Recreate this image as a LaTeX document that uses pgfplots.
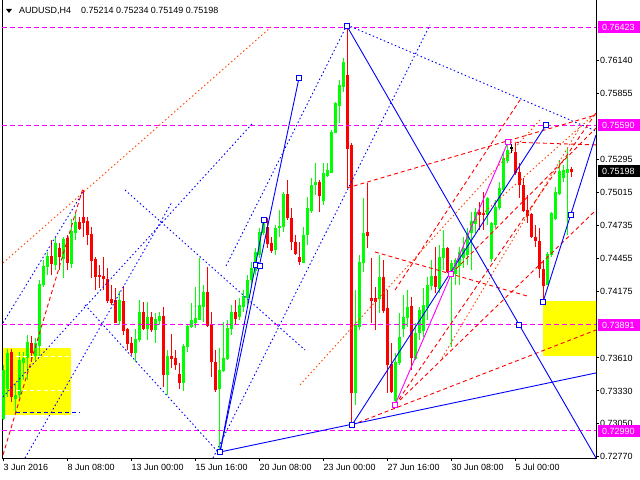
\documentclass[border=0pt]{standalone}
\usepackage{pgfplots}
\pgfplotsset{compat=1.18}
\usepackage{pgfplotstable}
\usepackage{fontspec}
\setmainfont{Liberation Sans}
\definecolor{mtgreen}{RGB}{0,255,0}
\definecolor{mtred}{RGB}{255,0,0}
\definecolor{mtblue}{RGB}{0,0,255}
\definecolor{mtmag}{RGB}{255,0,255}
\definecolor{mtorange}{RGB}{255,69,0}
\definecolor{mtyellow}{RGB}{255,255,0}

\pgfplotstableread{
i o h l c
0 0.73100 0.73551 0.73083 0.73508
1 0.73355 0.73687 0.73279 0.73653
3 0.73270 0.73398 0.73143 0.73296
4 0.73296 0.73661 0.73253 0.73593
5 0.73576 0.73661 0.73423 0.73610
6 0.73610 0.73806 0.73423 0.73738
8 0.73636 0.73780 0.73593 0.73738
9 0.73721 0.74273 0.73619 0.74239
10 0.74239 0.74443 0.74214 0.74392
11 0.74384 0.74511 0.74316 0.74477
13 0.74409 0.74630 0.74358 0.74588
15 0.74460 0.74639 0.74290 0.74622
17 0.74418 0.74792 0.74375 0.74690
18 0.74681 0.74843 0.74613 0.74766
29 0.73925 0.74180 0.73891 0.74095
33 0.73653 0.73857 0.73576 0.73772
34 0.73763 0.74103 0.73746 0.74001
36 0.73865 0.74086 0.73763 0.73959
38 0.73857 0.73993 0.73738 0.73942
39 0.73933 0.74001 0.73891 0.73967
41 0.73474 0.73678 0.73296 0.73627
45 0.73406 0.73729 0.73330 0.73712
46 0.73704 0.73899 0.73661 0.73882
47 0.73874 0.74078 0.73865 0.73933
48 0.73916 0.74214 0.73865 0.73950
49 0.73942 0.74460 0.73933 0.74061
50 0.74044 0.74231 0.73916 0.74171
54 0.73347 0.73695 0.72811 0.73508
55 0.73500 0.73916 0.73491 0.73610
56 0.73610 0.73933 0.73593 0.73865
57 0.73865 0.74061 0.73806 0.74001
59 0.73967 0.74120 0.73933 0.74061
60 0.74052 0.74188 0.74001 0.74137
61 0.74129 0.74316 0.74061 0.74273
62 0.74273 0.74426 0.74205 0.74375
63 0.74358 0.74545 0.74316 0.74511
64 0.74486 0.74715 0.74460 0.74681
65 0.74681 0.74800 0.74656 0.74766
68 0.74537 0.74741 0.74486 0.74715
69 0.74715 0.74868 0.74639 0.74724
70 0.74724 0.75021 0.74681 0.74996
75 0.74426 0.74724 0.74426 0.74656
76 0.74656 0.74979 0.74571 0.74885
77 0.74868 0.75140 0.74843 0.75081
78 0.75081 0.75268 0.74996 0.75106
80 0.74953 0.75268 0.74911 0.75183
81 0.75166 0.75268 0.75149 0.75208
82 0.75191 0.75548 0.75183 0.75531
83 0.75531 0.75786 0.75523 0.75778
84 0.75761 0.75973 0.75608 0.75931
85 0.75914 0.76160 0.75871 0.76126
88 0.73321 0.74188 0.73211 0.73891
89 0.73874 0.74486 0.73848 0.74418
90 0.74418 0.74970 0.74341 0.74673
94 0.74120 0.74486 0.73993 0.74299
98 0.73253 0.73653 0.73211 0.73576
99 0.73576 0.73993 0.73551 0.73789
100 0.73865 0.74146 0.73789 0.73959
101 0.73959 0.74188 0.73874 0.74044
103 0.73610 0.73908 0.73593 0.73823
104 0.73823 0.74044 0.73763 0.74018
105 0.73848 0.74205 0.73789 0.74061
106 0.74044 0.74299 0.73933 0.74231
107 0.74231 0.74443 0.74188 0.74307
109 0.74205 0.74571 0.74163 0.74469
110 0.74469 0.74698 0.74358 0.74545
112 0.74341 0.74443 0.73704 0.74418
113 0.74333 0.74460 0.74231 0.74443
114 0.74401 0.74554 0.74231 0.74511
115 0.74469 0.74639 0.74375 0.74545
116 0.74486 0.74715 0.74401 0.74673
117 0.74673 0.74851 0.74358 0.74766
118 0.74758 0.74885 0.74673 0.74851
121 0.74826 0.74979 0.74741 0.74970
122 0.74460 0.74766 0.74426 0.74758
123 0.74741 0.74953 0.74715 0.74894
124 0.74885 0.75106 0.74868 0.75055
125 0.75038 0.75353 0.75021 0.75302
126 0.75293 0.75446 0.75268 0.75378
136 0.74231 0.74511 0.74231 0.74494
137 0.74486 0.74851 0.74469 0.74843
138 0.74800 0.75064 0.74783 0.75021
139 0.75013 0.75293 0.74996 0.75200
140 0.75140 0.75251 0.75106 0.75200
141 0.75191 0.75395 0.74656 0.75214
}\bull

\pgfplotstableread{
i o h l c
2 0.73661 0.73687 0.73236 0.73279
7 0.73738 0.73797 0.73576 0.73653
12 0.74477 0.74613 0.74316 0.74418
14 0.74537 0.74588 0.74358 0.74469
16 0.74630 0.74656 0.74358 0.74418
19 0.74766 0.74809 0.74698 0.74715
20 0.74809 0.75038 0.74639 0.74758
21 0.74775 0.74809 0.74571 0.74656
22 0.74664 0.74724 0.74290 0.74443
23 0.74452 0.74469 0.74188 0.74307
24 0.74316 0.74401 0.74205 0.74299
25 0.74307 0.74469 0.74188 0.74290
26 0.74282 0.74375 0.74078 0.74095
27 0.74112 0.74231 0.74061 0.74086
28 0.74103 0.74205 0.73908 0.73916
30 0.74095 0.74222 0.73806 0.73848
31 0.73857 0.73865 0.73678 0.73738
32 0.73738 0.73789 0.73636 0.73653
35 0.74001 0.74086 0.73848 0.73865
37 0.73959 0.74001 0.73831 0.73857
40 0.73967 0.74044 0.73364 0.73474
42 0.73627 0.73814 0.73525 0.73610
43 0.73610 0.73678 0.73508 0.73559
44 0.73474 0.73568 0.73347 0.73406
51 0.74171 0.74384 0.73874 0.73891
52 0.73891 0.74001 0.73449 0.73576
53 0.73576 0.73678 0.73321 0.73347
58 0.74001 0.74103 0.73891 0.73950
66 0.74724 0.74800 0.74545 0.74588
67 0.74588 0.74639 0.74503 0.74528
71 0.74996 0.75123 0.74783 0.74800
72 0.74800 0.74885 0.74528 0.74596
73 0.74596 0.74656 0.74486 0.74503
74 0.74469 0.74596 0.74401 0.74435
79 0.75106 0.75123 0.74851 0.74996
86 0.76016 0.76423 0.75055 0.75395
87 0.75421 0.75438 0.73041 0.73321
91 0.74673 0.75098 0.74545 0.74647
92 0.74120 0.74460 0.73908 0.74103
93 0.74120 0.74214 0.73848 0.74086
95 0.74299 0.74443 0.73993 0.74018
96 0.74035 0.74188 0.73313 0.73551
97 0.73551 0.73738 0.73313 0.73321
102 0.74044 0.74129 0.73508 0.73610
108 0.74307 0.74554 0.74163 0.74214
111 0.74545 0.74554 0.74333 0.74350
119 0.74851 0.74936 0.74698 0.74834
120 0.74843 0.75021 0.74698 0.74826
128 0.75361 0.75438 0.75166 0.75183
129 0.75191 0.75268 0.74970 0.75081
130 0.75081 0.75140 0.74851 0.74868
131 0.74868 0.74996 0.74758 0.74826
132 0.74834 0.74843 0.74630 0.74639
133 0.74639 0.74741 0.74554 0.74613
134 0.74605 0.74715 0.74290 0.74375
135 0.74367 0.74443 0.74086 0.74231
142 0.75214 0.75234 0.75149 0.75198
}\bear

\pgfplotstableread{
i o h l c
127 0.75395 0.75429 0.75353 0.75396
}\doji

\tikzset{
  mtdot/.style={line width=0.9bp, dash pattern=on 1.5bp off 2.5bp},
  mtdash/.style={line width=0.9bp, dash pattern=on 4bp off 3bp},
  mtsolid/.style={line width=0.9bp},
  hl/.style={fill=#1, text=white, anchor=west, inner xsep=4bp, inner ysep=0bp,
    text width=36bp, minimum height=12bp, font=\fontsize{9}{10}\selectfont, xshift=2bp},
}
\newcommand{\wicks}[2]{%
  \addplot[draw=none, no markers, forget plot,
    error bars/.cd, y dir=both, y explicit, error mark=none,
    error bar style={draw=#2, line width=1bp, line cap=butt, solid}]
    table[x=i, y expr=(\thisrow{h}+\thisrow{l})/2, y error expr=(\thisrow{h}-\thisrow{l})/2] {#1};
  \addplot[draw=none, no markers, forget plot,
    error bars/.cd, y dir=both, y explicit, error mark=none,
    error bar style={draw=#2, line width=3bp, line cap=butt, solid}]
    table[x=i, y expr=(\thisrow{o}+\thisrow{c})/2, y error expr=abs(\thisrow{c}-\thisrow{o})/2+0.00004] {#1};
}

\begin{document}
\begin{tikzpicture}
\useasboundingbox (-2bp,-22bp) rectangle (638bp,458bp);
\begin{axis}[
  at={(0,0)}, anchor=south west, scale only axis,
  width=594bp, height=458bp,
  xmin=-0.25, xmax=148.25, ymin=0.72760, ymax=0.76653,
  axis line style={black, line width=1bp},
  tick style={black, line width=1bp},
  tick align=outside, major tick length=3bp,
  xtick pos=bottom, ytick pos=right,
  xtick={0,16,32,48,64,80,96,112,128},
  xticklabels={3 Jun 2016, 8 Jun 08:00, 13 Jun 00:00, 15 Jun 16:00, 20 Jun 08:00, 23 Jun 00:00, 27 Jun 16:00, 30 Jun 08:00, 5 Jul 00:00},
  xticklabel style={anchor=north west, inner sep=0pt, xshift=0.5bp, yshift=-3bp, font=\fontsize{9}{10}\selectfont},
  scaled y ticks=false,
  ytick={0.76140,0.75855,0.75295,0.75015,0.74735,0.74455,0.74175,0.73610,0.73330,0.73050,0.72770},
  yticklabels={0.76140,0.75855,0.75295,0.75015,0.74735,0.74455,0.74175,0.73610,0.73330,0.73050,0.72770},
  yticklabel style={anchor=west, inner sep=0pt, xshift=1bp, font=\fontsize{9}{10}\selectfont},
  after end axis/.code={
    \node[hl=mtmag] at (axis cs:148.25,0.76423) {0.76423};
    \node[hl=mtmag] at (axis cs:148.25,0.75590) {0.75590};
    \node[hl=black] at (axis cs:148.25,0.75198) {0.75198};
    \node[hl=mtmag] at (axis cs:148.25,0.73891) {0.73891};
    \node[hl=mtmag] at (axis cs:148.25,0.72990) {0.72990};
  },
]
% yellow zones
\addplot[fill=mtyellow, draw=none, forget plot] coordinates {(0,0.73695) (17,0.73695) (17,0.73126) (0,0.73126)} -- cycle;
\addplot[fill=mtyellow, draw=none, forget plot] coordinates {(135,0.74095) (149,0.74095) (149,0.73627) (135,0.73627)} -- cycle;
% candles
\wicks{\bull}{mtgreen}
\wicks{\bear}{mtred}
\wicks{\doji}{black}
% horizontal levels
\addplot[mtmag, mtdash, dash pattern=on 5bp off 3bp] coordinates {(-0.25,0.76423) (148.25,0.76423)};
\addplot[mtmag, mtdash, dash pattern=on 5bp off 3bp] coordinates {(-0.25,0.75590) (148.25,0.75590)};
\addplot[mtmag, mtdash, dash pattern=on 5bp off 3bp] coordinates {(-0.25,0.73891) (148.25,0.73891)};
\addplot[mtmag, mtdash, dash pattern=on 5bp off 3bp] coordinates {(-0.25,0.72990) (148.25,0.72990)};
\addplot[white, mtdash] coordinates {(3.25,0.73619) (17,0.73619)};
\addplot[white, mtdash] coordinates {(3.25,0.73338) (17,0.73338)};
\addplot[mtblue, mtdash] coordinates {(3.25,0.73151) (19.25,0.73151)};
% blue dotted
\addplot[mtblue, mtdot] coordinates {(5.5,0.72760) (42.25,0.74936)};
\addplot[mtblue, mtdot] coordinates {(0,0.73279) (62.5,0.75608)};
\addplot[mtblue, mtdot] coordinates {(0,0.73908) (20,0.75021)};
\addplot[mtblue, mtdot] coordinates {(20.5,0.74061) (53.75,0.72811)};
\addplot[mtblue, mtdot] coordinates {(30.5,0.75038) (75.5,0.73678)};
\addplot[mtblue, mtdot] coordinates {(86,0.76441) (55.5,0.74375)};
\addplot[mtblue, mtdot] coordinates {(86,0.76441) (148.25,0.75539)};
\addplot[mtblue, mtdot] coordinates {(52.5,0.72760) (106.75,0.76441)};
% orange / red
\addplot[mtorange, mtdot] coordinates {(0,0.74418) (67,0.76423)};
\addplot[mtorange, mtdot] coordinates {(74.25,0.73381) (134.25,0.75633)};
\addplot[mtorange, mtdot] coordinates {(116.75,0.74741) (148.25,0.75693)};
\addplot[mtorange, mtdot] coordinates {(109.75,0.73610) (144.25,0.75573)};
\addplot[mtred, mtdash] coordinates {(0,0.72786) (20,0.75055)};
\addplot[mtred, mtdash] coordinates {(86,0.75055) (148.25,0.75676)};
\addplot[mtred, mtdash] coordinates {(87.25,0.73041) (148.25,0.73848)};
\addplot[mtred, mtdash] coordinates {(93,0.74511) (131,0.74137)};
\addplot[mtred, mtdash] coordinates {(126.25,0.75446) (148.25,0.75421)};
\addplot[mtred, mtdash] coordinates {(98,0.74188) (129.25,0.75803)};
\addplot[mtred, mtdash] coordinates {(112,0.74324) (148.25,0.75565)};
\addplot[mtred, mtdash] coordinates {(98,0.73211) (148.25,0.74868)};
\addplot[mtred, mtdash] coordinates {(98,0.73211) (148.25,0.75693)};
% blue solid
\addplot[mtblue, mtsolid] coordinates {(54.25,0.72811) (74,0.75990)};
\addplot[mtblue, mtsolid] coordinates {(54.25,0.72811) (65.25,0.74783)};
\addplot[mtblue, mtsolid] coordinates {(54.25,0.72811) (148.25,0.73483)};
\addplot[mtblue, mtsolid] coordinates {(87.25,0.73041) (135.75,0.75590)};
\addplot[mtblue, mtsolid] coordinates {(86,0.76430) (148.25,0.72760)};
\addplot[mtblue, mtsolid] coordinates {(135,0.74086) (148.25,0.75506)};
\addplot[mtmag, mtsolid] coordinates {(98,0.73211) (126.25,0.75446)};
% anchor squares
\addplot[only marks, mark=square*, mark size=2.3bp, mark options={draw=mtblue, fill=white, line width=0.9bp, solid}]
  coordinates {(54.25,0.72811) (87.25,0.73041) (86,0.76430) (135.75,0.75590) (129,0.73891) (135,0.74086) (142,0.74826) (63.25,0.74401) (64.25,0.74392) (65.25,0.74783) (74,0.75990)};
\addplot[only marks, mark=square*, mark size=2.3bp, mark options={draw=mtmag, fill=white, line width=0.9bp, solid}]
  coordinates {(98,0.73211) (112,0.74324) (126.25,0.75446)};
\end{axis}
\fill (4bp,449bp) -- (10bp,449bp) -- (7bp,445bp) -- cycle;
\node[anchor=west, inner sep=0pt, font=\fontsize{9}{10}\selectfont] at (17bp,447.5bp) {AUDUSD,H4};
\node[anchor=west, inner sep=0pt, font=\fontsize{9}{10}\selectfont] at (79bp,447.5bp) {0.75214 0.75234 0.75149 0.75198};
\end{tikzpicture}
\end{document}
